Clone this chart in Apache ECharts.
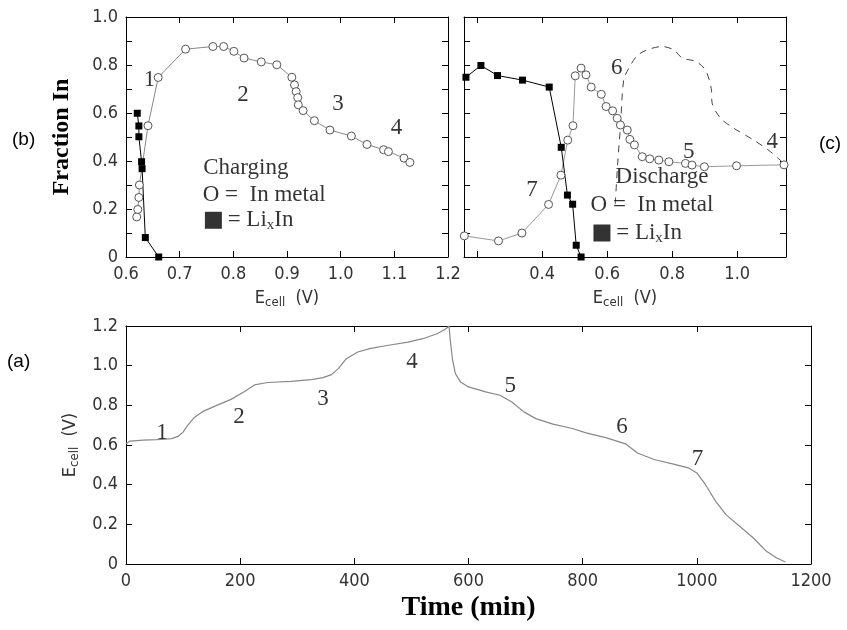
<!DOCTYPE html>
<html><head><meta charset="utf-8">
<script src="https://cdn.jsdelivr.net/npm/echarts@6/dist/echarts.min.js"></script>
<style>html,body{margin:0;padding:0;background:#fff}#c{width:847px;height:630px}</style>
</head><body><div id="c"></div>
<script>
// ---- Panel (b): charging, fraction In vs E_cell ----
const chargeInMetal = [[0.620,0.167],[0.622,0.198],[0.624,0.248],[0.625,0.300],[0.641,0.547],[0.660,0.748],[0.711,0.866],[0.762,0.877],[0.782,0.877],[0.801,0.857],[0.820,0.829],[0.852,0.813],[0.881,0.801],[0.909,0.749],[0.914,0.717],[0.917,0.689],[0.920,0.664],[0.921,0.634],[0.930,0.610],[0.951,0.568],[0.980,0.529],[1.020,0.504],[1.049,0.469],[1.080,0.447],[1.089,0.439],[1.118,0.412],[1.129,0.394]];
const chargeLixIn = [[0.621,0.599],[0.624,0.546],[0.624,0.501],[0.629,0.397],[0.630,0.368],[0.636,0.081],[0.661,0.0]];
const chargeStageLabels = [[0.644,0.738,'1'],[0.818,0.675,'2'],[0.995,0.638,'3'],[1.104,0.536,'4']];

// ---- Panel (c): discharge ----
const dischargeInMetal = [[0.161,0.088],[0.266,0.067],[0.338,0.100],[0.420,0.219],[0.458,0.341],[0.479,0.487],[0.495,0.547],[0.502,0.755],[0.520,0.787],[0.535,0.759],[0.551,0.708],[0.582,0.678],[0.597,0.627],[0.617,0.609],[0.631,0.578],[0.641,0.550],[0.662,0.529],[0.670,0.490],[0.684,0.467],[0.708,0.418],[0.731,0.409],[0.759,0.404],[0.790,0.397],[0.841,0.390],[0.861,0.383],[0.899,0.376],[0.998,0.380],[1.144,0.384]];
const dischargeLixIn = [[0.166,0.749],[0.212,0.798],[0.263,0.756],[0.340,0.737],[0.422,0.708],[0.459,0.457],[0.478,0.258],[0.494,0.220],[0.505,0.049],[0.520,0.0]];
const dischargeDashed = [[0.625,0.22],[0.633,0.40],[0.641,0.543],[0.651,0.738],[0.667,0.787],[0.692,0.838],[0.723,0.863],[0.769,0.877],[0.805,0.863],[0.831,0.829],[0.872,0.815],[0.902,0.780],[0.920,0.703],[0.923,0.641],[0.949,0.578],[0.990,0.536],[1.051,0.487],[1.102,0.439],[1.143,0.390]];
const dischargeStageLabels = [[0.630,0.787,'6'],[0.851,0.439,'5'],[1.108,0.480,'4'],[0.369,0.279,'7']];

// ---- Panel (a): E_cell vs time ----
const cellPotential = [[0,0.606],[7,0.620],[30,0.625],[54,0.627],[80,0.632],[92,0.645],[100,0.665],[107,0.695],[119,0.737],[136,0.771],[160,0.801],[184,0.830],[207,0.868],[225,0.903],[248,0.915],[289,0.921],[325,0.930],[345,0.940],[360,0.955],[372,0.985],[386,1.035],[406,1.069],[427,1.086],[460,1.103],[494,1.119],[520,1.136],[545,1.161],[560,1.185],[566,1.2],[568,1.13],[572,1.03],[577,0.96],[586,0.918],[600,0.893],[630,0.868],[655,0.851],[676,0.817],[697,0.767],[718,0.733],[748,0.705],[782,0.683],[806,0.661],[842,0.636],[875,0.606],[896,0.560],[925,0.527],[961,0.502],[985,0.485],[1000,0.459],[1015,0.401],[1033,0.316],[1051,0.249],[1075,0.190],[1099,0.131],[1122,0.064],[1140,0.030],[1155,0.010]];
const timeStageLabels = [[63,0.66,'1'],[198,0.74,'2'],[345,0.83,'3'],[501,1.02,'4'],[673,0.90,'5'],[869,0.69,'6'],[1001,0.53,'7']];

const dischargeTicksX = [0.2,0.4,0.6,0.8,1.0];
const dischargeLabelsX = [0.4,0.6,0.8,1.0];

const SANS = "'Liberation Sans Narrow','DejaVu Sans Condensed','Liberation Sans',sans-serif";
const SERIF = "'Liberation Serif','DejaVu Serif',serif";
const AX = '#000';
const LBL = '#333';

const ecellName = '{e|E}{s|cell}{e|  (V)}';
const ecellRich = {e:{fontSize:18,fontFamily:SANS,color:LBL},s:{fontSize:13,fontFamily:SANS,color:LBL,padding:[9,0,0,0]}};

function fmt(v){ return Math.abs(v) < 1e-9 ? '0' : v.toFixed(1); }

function baseX(grid, pos, min, max, opts){
  return Object.assign({
    type:'value', gridIndex:grid, position:pos, min:min, max:max,
    axisLine:{show:true,onZero:false,lineStyle:{color:AX,width:1}},
    axisTick:{show:true,inside:true,length:6,lineStyle:{color:AX}},
    splitLine:{show:false},
    axisLabel:{show:false}
  }, opts||{});
}

const labelText = {fontFamily:SERIF,fontSize:23,color:'#000'};

function notes(xi, yi, arr){
  return {type:'scatter', xAxisIndex:xi, yAxisIndex:yi, symbol:'circle', symbolSize:1,
    itemStyle:{color:'rgba(0,0,0,0)'}, silent:true, z:5,
    data: arr.map(a=>({value:[a[0],a[1]], name:a[2]})),
    label:{show:true, position:'inside', formatter:'{b}', fontFamily:SERIF, fontSize:23, color:'#000'}};
}

function legendBlock(xi, yi, title, pts){
  const rich = {t:labelText, x:{fontFamily:SERIF,fontSize:15,color:'#000',padding:[10,0,0,0]},
                sq:{width:17,height:17,backgroundColor:'#000'}};
  const texts = [title, 'O =  In metal', '{sq|} {t|= Li}{x|x}{t|In}'];
  return {type:'scatter', xAxisIndex:xi, yAxisIndex:yi, symbol:'circle', symbolSize:1,
    itemStyle:{color:'rgba(0,0,0,0)'}, silent:true, z:5,
    data: pts.map((p,i)=>({value:p, name:texts[i]})),
    label:{show:true, position:'inside', align:'left', verticalAlign:'middle',
      formatter:(p)=>p.name, fontFamily:SERIF, fontSize:23, color:'#000', rich:rich}};
}

const circleStyle = {color:'#fff',borderColor:'#555',borderWidth:1};

const option = {
  animation:false,
  backgroundColor:'#fff',
  grid:[
    {left:126, top:17, width:322, height:240},
    {left:464, top:17, width:322, height:240},
    {left:126, top:326, width:685, height:238}
  ],
  xAxis:[
    baseX(0,'bottom',0.6,1.2,{interval:0.1,
      axisLabel:{show:true,formatter:fmt,fontFamily:SANS,fontSize:18,color:LBL,margin:8},
      name:ecellName, nameLocation:'middle', nameGap:30, nameTextStyle:{rich:ecellRich}}),
    baseX(0,'top',0.6,1.2,{interval:0.1}),
    baseX(1,'bottom',0.16,1.15,{
      axisTick:{show:true,inside:true,length:6,lineStyle:{color:AX},customValues:dischargeTicksX},
      axisLabel:{show:true,formatter:fmt,fontFamily:SANS,fontSize:18,color:LBL,margin:8,customValues:dischargeLabelsX},
      name:ecellName, nameLocation:'middle', nameGap:30, nameTextStyle:{rich:ecellRich}}),
    baseX(1,'top',0.16,1.15,{
      axisTick:{show:true,inside:true,length:6,lineStyle:{color:AX},customValues:dischargeTicksX}}),
    baseX(2,'bottom',0,1200,{interval:200,
      axisLabel:{show:true,formatter:(v)=>String(Math.round(v)),fontFamily:SANS,fontSize:18,color:LBL,margin:8},
      name:'Time (min)', nameLocation:'middle', nameGap:30,
      nameTextStyle:{fontFamily:SERIF,fontSize:28,fontWeight:'bold',color:'#000'}}),
    baseX(2,'top',0,1200,{interval:200})
  ],
  yAxis:[
    baseX(0,'left',0,1.0,{interval:0.1,
      axisLabel:{show:true,fontFamily:SANS,fontSize:18,color:LBL,margin:8,
        formatter:(v)=> (Math.round(v*10)%2===0 ? fmt(v) : '')},
      name:'Fraction In', nameLocation:'middle', nameGap:52, nameRotate:90,
      nameTextStyle:{fontFamily:SERIF,fontSize:24,fontWeight:'bold',color:'#000'}}),
    baseX(0,'right',0,1.0,{interval:0.1}),
    baseX(1,'left',0,1.0,{interval:0.1}),
    baseX(1,'right',0,1.0,{interval:0.1}),
    baseX(2,'left',0,1.2,{interval:0.2,
      axisLabel:{show:true,formatter:fmt,fontFamily:SANS,fontSize:18,color:LBL,margin:8},
      name:ecellName, nameLocation:'middle', nameGap:40, nameRotate:90, nameTextStyle:{rich:ecellRich}}),
    baseX(2,'right',0,1.2,{interval:0.2})
  ],
  series:[
    {type:'line', xAxisIndex:0, yAxisIndex:0, data:chargeInMetal, symbol:'circle', symbolSize:8,
      itemStyle:circleStyle, lineStyle:{color:'#888',width:1}},
    {type:'line', xAxisIndex:0, yAxisIndex:0, data:chargeLixIn, symbol:'rect', symbolSize:7,
      itemStyle:{color:'#000'}, lineStyle:{color:'#000',width:1}},
    {type:'line', xAxisIndex:2, yAxisIndex:2, data:dischargeDashed, symbol:'none', smooth:0.3,
      lineStyle:{color:'#444',width:1,type:[7,6]}},
    {type:'line', xAxisIndex:2, yAxisIndex:2, data:dischargeInMetal, symbol:'circle', symbolSize:8,
      itemStyle:circleStyle, lineStyle:{color:'#999',width:1}},
    {type:'line', xAxisIndex:2, yAxisIndex:2, data:dischargeLixIn, symbol:'rect', symbolSize:7,
      itemStyle:{color:'#000'}, lineStyle:{color:'#000',width:1}},
    {type:'line', xAxisIndex:4, yAxisIndex:4, data:cellPotential, symbol:'none',
      lineStyle:{color:'#888',width:1.2}},
    notes(0,0,chargeStageLabels),
    notes(2,2,dischargeStageLabels),
    notes(4,4,timeStageLabels),
    legendBlock(0,0,'Charging',[[0.744,0.369],[0.743,0.258],[0.747,0.153]]),
    legendBlock(2,2,'Discharge',[[0.626,0.334],[0.549,0.216],[0.558,0.10]])
  ],
  graphic:[
    {type:'text', left:12, top:130, style:{text:'(b)', font:"19px 'Liberation Sans',Arial,sans-serif", fill:'#000'}},
    {type:'text', left:819, top:134, style:{text:'(c)', font:"19px 'Liberation Sans',Arial,sans-serif", fill:'#000'}},
    {type:'text', left:7, top:352, style:{text:'(a)', font:"19px 'Liberation Sans',Arial,sans-serif", fill:'#000'}}
  ]
};
const chart = echarts.init(document.getElementById('c'), null, {renderer:'canvas'});
chart.setOption(option);
</script>
</body></html>
